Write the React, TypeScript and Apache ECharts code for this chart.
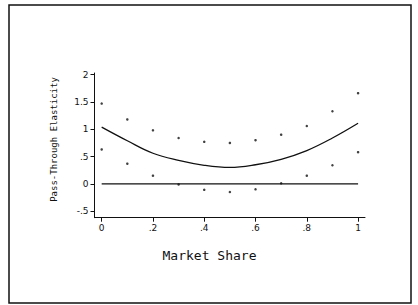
import React, { useEffect, useRef } from "react";
import * as echarts from "echarts";

const shares = [0, 0.1, 0.2, 0.3, 0.4, 0.5, 0.6, 0.7, 0.8, 0.9, 1.0];
const upperBound = [1.47, 1.18, 0.98, 0.84, 0.77, 0.75, 0.8, 0.9, 1.06, 1.33, 1.66];
const lowerBound = [0.63, 0.37, 0.15, -0.01, -0.11, -0.15, -0.1, 0.01, 0.15, 0.34, 0.58];
const fitted = [1.04, 0.79, 0.56, 0.43, 0.34, 0.3, 0.35, 0.45, 0.61, 0.84, 1.11];
const zeroLine = [0, 0];
const zeroLineX = [0, 1];
const xTicks = [0, 0.2, 0.4, 0.6, 0.8, 1];
const yTicks = [-0.5, 0, 0.5, 1, 1.5, 2];
const xTitle = "Market Share";
const yTitle = "Pass-Through Elasticity";

const fmt = (v: number) => {
  const s = String(Math.round(v * 10) / 10);
  return s.replace(/^0\./, ".").replace(/^-0\./, "-.");
};

export default function App() {
  const ref = useRef<HTMLDivElement>(null);
  useEffect(() => {
    document.body.style.margin = "0";
    const chart = echarts.init(ref.current!, null, { renderer: "svg" });
    const labelFont = { fontFamily: "DejaVu Sans", fontSize: 9, color: "#111" };
    chart.setOption({
      animation: false,
      backgroundColor: "#fff",
      grid: { left: 94.5, right: 53, top: 73, bottom: 87.3, containLabel: false },
      xAxis: {
        type: "value",
        min: -0.028,
        max: 1.027,
        splitLine: { show: false },
        axisLine: { show: true, onZero: false, lineStyle: { color: "#111", width: 1 } },
        axisTick: { show: true, length: 4, customValues: xTicks, lineStyle: { color: "#111" } },
        axisLabel: { ...labelFont, margin: 6, customValues: xTicks, formatter: fmt },
      },
      yAxis: {
        type: "value",
        min: -0.62,
        max: 2.03,
        splitLine: { show: false },
        axisLine: { show: true, onZero: false, lineStyle: { color: "#111", width: 1 } },
        axisTick: { show: true, length: 4, customValues: yTicks, lineStyle: { color: "#111" } },
        axisLabel: { ...labelFont, margin: 6, customValues: yTicks, formatter: fmt },
      },
      graphic: [
        {
          type: "rect",
          shape: { x: 9, y: 5, width: 402, height: 298 },
          style: { fill: "none", stroke: "#111", lineWidth: 1.5 },
          silent: true,
        },
        {
          type: "text",
          x: 209.5,
          y: 255,
          style: {
            text: xTitle,
            fontFamily: "DejaVu Sans Mono",
            fontSize: 13,
            fill: "#111",
            align: "center",
            verticalAlign: "middle",
          },
        },
        {
          type: "text",
          x: 54,
          y: 139.5,
          rotation: Math.PI / 2,
          style: {
            text: yTitle,
            fontFamily: "DejaVu Sans Mono",
            fontSize: 9,
            fill: "#111",
            align: "center",
            verticalAlign: "middle",
          },
        },
      ],
      series: [
        {
          type: "line",
          data: zeroLineX.map((x, i) => [x, zeroLine[i]]),
          showSymbol: false,
          lineStyle: { color: "#111", width: 1.3 },
          silent: true,
        },
        {
          type: "line",
          data: shares.map((x, i) => [x, fitted[i]]),
          smooth: 0.4,
          showSymbol: false,
          lineStyle: { color: "#111", width: 1.3 },
          silent: true,
        },
        {
          type: "scatter",
          data: shares.map((x, i) => [x, upperBound[i]]),
          symbol: "circle",
          symbolSize: 2.5,
          itemStyle: { color: "#111" },
        },
        {
          type: "scatter",
          data: shares.map((x, i) => [x, lowerBound[i]]),
          symbol: "circle",
          symbolSize: 2.5,
          itemStyle: { color: "#111" },
        },
      ],
    });
    return () => chart.dispose();
  }, []);
  return (
    <div
      ref={ref}
      style={{ position: "absolute", left: 0, top: 0, width: 418, height: 305 }}
    />
  );
}
